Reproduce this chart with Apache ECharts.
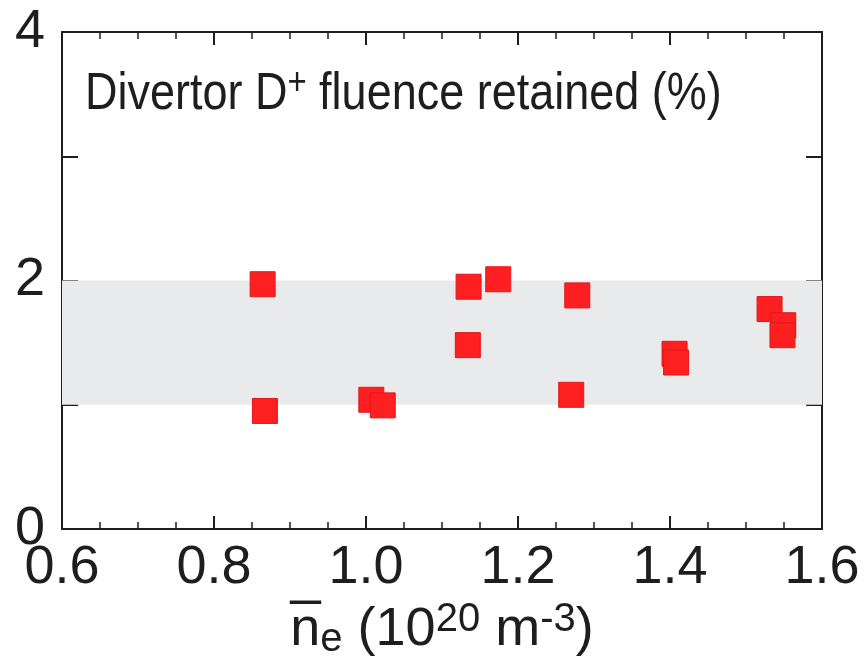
<!DOCTYPE html>
<html>
<head>
<meta charset="utf-8">
<script src="https://cdn.jsdelivr.net/npm/echarts@6/dist/echarts.min.js"></script>
<style>
html,body{margin:0;padding:0;background:#fff;}
#chart{width:867px;height:666px;}
</style>
</head>
<body>
<div id="chart"></div>
<script>
// Data
var xValues = [0.864, 0.867, 1.007, 1.022, 1.135, 1.134, 1.174, 1.278, 1.270, 1.406, 1.408, 1.531, 1.549, 1.548];
var yValues = [1.97, 0.95, 1.04, 0.995, 1.95, 1.48, 2.01, 1.88, 1.08, 1.41, 1.34, 1.77, 1.64, 1.56];
var bandLow = 1;
var bandHigh = 2;
var xMin = 0.6, xMax = 1.6, xStep = 0.2;
var yMin = 0, yMax = 4, yStep = 1;
var yLabelValues = [0, 2, 4];

var points = xValues.map(function (x, i) { return [x, yValues[i]]; });

var ink = '#1e1e1e';
var font = 'Liberation Sans, Arial, sans-serif';

var chart = echarts.init(document.getElementById('chart'), null, {renderer: 'canvas'});

function xAxisCfg(pos, showLabel) {
  return {
    type: 'value', position: pos, min: xMin, max: xMax, interval: xStep,
    axisLine: {show: true, onZero: false, lineStyle: {color: ink, width: 2}},
    axisTick: {show: true, inside: true, length: 13, lineStyle: {color: ink, width: 2}},
    minorTick: {show: true, splitNumber: 4, length: 7, lineStyle: {color: ink, width: 1.5}},
    splitLine: {show: false},
    axisLabel: {show: showLabel, fontSize: 54, fontFamily: font, color: ink, margin: 12,
      formatter: function (v) { return v.toFixed(1); }}
  };
}
function yAxisCfg(pos, showLabel) {
  return {
    type: 'value', position: pos, min: yMin, max: yMax, interval: yStep,
    axisLine: {show: true, onZero: false, lineStyle: {color: ink, width: 2}},
    axisTick: {show: true, inside: true, length: 16, lineStyle: {color: ink, width: 2}},
    splitLine: {show: false},
    axisLabel: {show: showLabel, fontSize: 54, fontFamily: font, color: ink, margin: 17,
      formatter: function (v) { return yLabelValues.indexOf(v) >= 0 ? String(v) : ''; }}
  };
}

var xb = xAxisCfg('bottom', true);
xb.name = '{n|n\u0305}{sub|e}{a| (10}{sup|20}{a| m}{sup|-3}{a|)}';
xb.nameLocation = 'middle';
xb.nameGap = 62;
xb.nameTextStyle = {
  fontFamily: font, color: ink, fontSize: 54,
  rich: {
    n: {fontSize: 54, fontFamily: font, color: ink, lineHeight: 60},
    a: {fontSize: 54, fontFamily: font, color: ink, lineHeight: 60},
    sub: {fontSize: 40, fontFamily: font, color: ink, lineHeight: 4, verticalAlign: 'bottom'},
    sup: {fontSize: 40, fontFamily: font, color: ink, lineHeight: 40, verticalAlign: 'top'}
  }
};

var option = {
  animation: false,
  backgroundColor: '#ffffff',
  graphic: [{
    type: 'text', x: 85, y: 65, scaleX: 0.865, scaleY: 1, z: 10,
    style: {
      text: '{a|Divertor D}{sup|+}{a| fluence retained (%)}',
      fill: ink, font: '52px Liberation Sans', align: 'left', verticalAlign: 'top',
      rich: {
        a: {fontFamily: font, fontSize: 52, fill: ink, lineHeight: 60},
        sup: {fontFamily: font, fontSize: 38, fill: ink, lineHeight: 20, verticalAlign: 'top'}
      }
    }
  }],
  grid: {left: 62, right: 45, top: 32, bottom: 137, containLabel: false},
  xAxis: [xb, xAxisCfg('top', false)],
  yAxis: [yAxisCfg('left', true), yAxisCfg('right', false)],
  series: [
    {
      type: 'scatter', data: [], z: 1, silent: true,
      markArea: {
        silent: true,
        itemStyle: {color: '#e9eaec'},
        data: [[{yAxis: bandLow}, {yAxis: bandHigh}]]
      }
    },
    {
      type: 'scatter', z: 5,
      symbol: 'rect', symbolSize: 25,
      itemStyle: {color: '#fe2020', borderColor: '#e0181c', borderWidth: 1, opacity: 1},
      data: points
    }
  ]
};
chart.setOption(option);
</script>
</body>
</html>
